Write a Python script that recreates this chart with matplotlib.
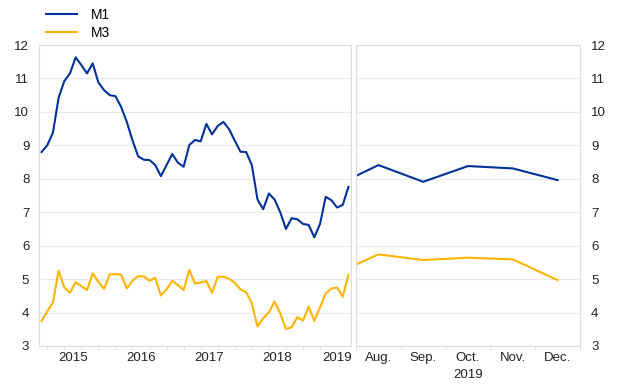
import numpy as np
import matplotlib.pyplot as plt
from matplotlib.lines import Line2D

plt.rcParams['font.family'] = ['Liberation Sans', 'DejaVu Sans']

# monthly growth rates, Jan 2015 - Jul 2019 (annual % changes)
m1_hist = [8.80, 9.00, 9.38, 10.42, 10.92, 11.15, 11.63, 11.40, 11.15, 11.45,
           10.88, 10.65, 10.50, 10.47, 10.15, 9.70, 9.15, 8.67, 8.57, 8.56,
           8.41, 8.08, 8.41, 8.74, 8.48, 8.36, 9.01, 9.16, 9.12, 9.64,
           9.33, 9.58, 9.70, 9.48, 9.14, 8.81, 8.80, 8.41, 7.38, 7.09,
           7.56, 7.38, 7.00, 6.50, 6.82, 6.79, 6.65, 6.62, 6.25, 6.65,
           7.46, 7.36, 7.14, 7.22, 7.76]
m3_hist = [3.75, 4.03, 4.30, 5.25, 4.75, 4.59, 4.91, 4.79, 4.67, 5.17,
           4.92, 4.71, 5.14, 5.15, 5.13, 4.72, 4.95, 5.09, 5.08, 4.95,
           5.04, 4.51, 4.69, 4.95, 4.82, 4.67, 5.27, 4.87, 4.90, 4.94,
           4.59, 5.07, 5.07, 5.01, 4.89, 4.69, 4.61, 4.28, 3.58, 3.83,
           4.00, 4.33, 3.98, 3.51, 3.56, 3.86, 3.76, 4.18, 3.75, 4.16,
           4.57, 4.72, 4.75, 4.47, 5.13]
years = ['2015', '2016', '2017', '2018', '2019']
year_pos = [5.5, 17.5, 29.5, 41.5, 52]

# Jul - Dec 2019
months = ['Jul.', 'Aug.', 'Sep.', 'Oct.', 'Nov.', 'Dec.']
m1_recent = [7.76, 8.41, 7.91, 8.38, 8.31, 7.96]
m3_recent = [5.13, 5.74, 5.57, 5.64, 5.59, 4.97]

blue = '#003299'
yellow = '#FFB400'
grid_c = '#ebebeb'
frame_c = '#dcdcdc'
fs = 9.5

fig = plt.figure(figsize=(6.2, 3.87), dpi=100)
ax1 = fig.add_axes([39/620, 41/387, 312/620, 301/387])
ax2 = fig.add_axes([356/620, 41/387, 224/620, 301/387])

x1 = np.arange(len(m1_hist))
ax1.plot(x1, m1_hist, color=blue, lw=1.5)
ax1.plot(x1, m3_hist, color=yellow, lw=1.5)
ax1.set_xlim(-0.45, len(m1_hist) - 0.55)

x2 = np.arange(len(months))
ax2.plot(x2, m1_recent, color=blue, lw=1.5)
ax2.plot(x2, m3_recent, color=yellow, lw=1.5)
ax2.set_xlim(0.5, 5.5)

for ax in (ax1, ax2):
    ax.set_ylim(3, 12)
    ax.set_yticks(range(3, 13))
    ax.grid(axis='y', color=grid_c, lw=0.8)
    ax.set_axisbelow(True)
    for s in ax.spines.values():
        s.set_color(frame_c)
        s.set_linewidth(0.8)
    ax.tick_params(axis='y', length=0, labelsize=fs, pad=7, colors='#222222')
    ax.tick_params(axis='x', which='major', length=0, labelsize=fs, pad=4, colors='#222222')
    ax.tick_params(axis='x', which='minor', length=3, color=frame_c, width=0.6)

ax1.set_xticks(year_pos)
ax1.set_xticklabels(years)
ax1.set_xticks(np.arange(1, len(m1_hist), 3), minor=True)

ax2.yaxis.tick_right()
ax2.set_xticks(x2[1:])
ax2.set_xticklabels(months[1:])
ax2.set_xticks(np.arange(0.5, 6, 1), minor=True)
ax2.tick_params(axis='y', pad=8)
fig.text(468/620, 1 - 375/387, '2019', ha='center', va='center', fontsize=fs, color='#222222')

handles = [Line2D([], [], color=blue, lw=1.5), Line2D([], [], color=yellow, lw=1.5)]
fig.legend(handles, ['M1', 'M3'], loc='upper left', bbox_to_anchor=(46/620, 1 - 8/387),
           frameon=False, fontsize=fs + 0.5, handlelength=2.2, handletextpad=1.0,
           labelspacing=0.3, borderpad=0, borderaxespad=0)

fig.savefig('out.png', dpi=100)
